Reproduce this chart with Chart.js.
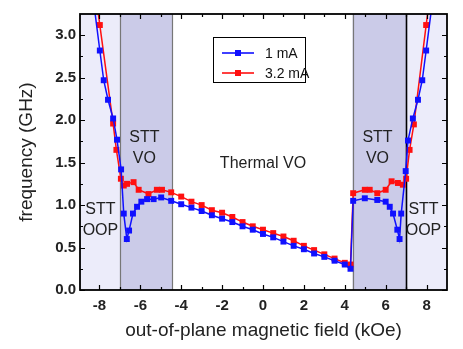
<!DOCTYPE html>
<html>
<head>
<meta charset="utf-8">
<script src="https://cdn.jsdelivr.net/npm/chart.js@4/dist/chart.umd.min.js"></script>
<style>
  html, body { margin: 0; padding: 0; background: #fff; }
  #wrap { width: 463px; height: 349px; }
</style>
</head>
<body>
<div id="wrap"><canvas id="chart" width="463" height="349"></canvas></div>
<script>
// field (kOe) and frequency (GHz)
const field1mA = [-8.5, -7.98, -7.79, -7.58, -7.33, -7.14, -6.94, -6.81, -6.66, -6.55, -6.36, -6.16, -5.95, -5.67, -5.35, -4.98,
  -4.49, -4.0, -3.5, -3.0, -2.5, -2.0, -1.5, -1.0, -0.5, 0.0, 0.5, 1.0, 1.5, 2.0, 2.5, 3.0, 3.5, 4.0, 4.28,
  4.41, 4.98, 5.59, 6.0, 6.2, 6.36, 6.57, 6.68, 6.76, 6.98, 7.09, 7.33, 7.58, 7.79, 7.98, 8.5];
const freq1mA = [3.8, 2.82, 2.47, 2.24, 2.02, 1.77, 1.42, 0.90, 0.60, 0.70, 0.90, 0.98, 1.04, 1.07, 1.07, 1.09,
  1.05, 1.01, 0.97, 0.93, 0.88, 0.84, 0.80, 0.75, 0.71, 0.66, 0.62, 0.57, 0.52, 0.48, 0.43, 0.39, 0.345, 0.30, 0.25,
  1.05, 1.08, 1.06, 1.04, 0.98, 0.90, 0.71, 0.60, 0.90, 1.40, 1.76, 2.02, 2.24, 2.47, 2.82, 3.8];

const field32mA = [-8.5, -7.98, -7.33, -7.17, -6.95, -6.81, -6.65, -6.33, -6.08, -5.6, -5.19, -4.94,
  -4.49, -4.0, -3.5, -3.0, -2.5, -2.0, -1.5, -1.0, -0.5, 0.0, 0.5, 1.0, 1.5, 2.0, 2.5, 3.0, 3.5, 4.0, 4.28,
  4.41, 4.98, 5.22, 5.59, 6.0, 6.29, 6.6, 6.84, 7.0, 7.17, 7.38, 7.98, 8.5];
const freq32mA = [4.06, 3.12, 1.96, 1.65, 1.31, 1.23, 1.25, 1.27, 1.18, 1.13, 1.18, 1.18,
  1.15, 1.10, 1.04, 1.00, 0.94, 0.91, 0.86, 0.80, 0.75, 0.71, 0.67, 0.63, 0.58, 0.52, 0.47, 0.42, 0.37, 0.32, 0.30,
  1.14, 1.18, 1.18, 1.14, 1.18, 1.28, 1.26, 1.24, 1.31, 1.65, 1.95, 3.12, 4.06];

const seriesLabels = ['1 mA', '3.2 mA'];
const xTicks = [-8, -6, -4, -2, 0, 2, 4, 6, 8];
const xMinorTicks = [-7, -5, -3, -1, 1, 3, 5, 7];
const yTicks = [0, 0.5, 1.0, 1.5, 2.0, 2.5, 3.0];
const yMinorTicks = [0.25, 0.75, 1.25, 1.75, 2.25, 2.75];

// oscillation regimes along the field axis
const regionEdges = [-8.95, -7.0, -4.45, 4.38, 7.0, 9.0];
const regionKinds = ['oop', 'vo', 'thermal', 'vo', 'oop'];
const regionNames = [['STT', 'OOP'], ['STT', 'VO'], ['Thermal VO'], ['STT', 'VO'], ['STT', 'OOP']];
const nameAt = [[-7.95, 0.83], [-5.8, 1.68], [0, 1.49], [5.6, 1.68], [7.85, 0.83]];

const BLUE = '#1010ff';
const RED = '#ff1010';
const FONT = '"Liberation Sans", Arial, sans-serif';

const toPoints = (xs, ys) => xs.map((v, i) => ({ x: v, y: ys[i] }));

const regimePlugin = {
  id: 'regimes',
  beforeDatasetsDraw(chart) {
    const { ctx, chartArea: a, scales: { x, y } } = chart;
    ctx.save();
    const fills = { oop: '#ececfa', vo: '#cbcbe8', thermal: '#ffffff' };
    for (let i = 0; i < regionKinds.length; i++) {
      const x0 = Math.max(x.getPixelForValue(regionEdges[i]), a.left);
      const x1 = Math.min(x.getPixelForValue(regionEdges[i + 1]), a.right);
      ctx.fillStyle = fills[regionKinds[i]];
      ctx.fillRect(x0, a.top, x1 - x0, a.bottom - a.top);
    }
    // borders between regimes
    for (let i = 1; i < regionEdges.length - 1; i++) {
      const px = Math.round(x.getPixelForValue(regionEdges[i])) + 0.5;
      ctx.strokeStyle = i === 4 ? '#000' : '#777';
      ctx.lineWidth = i === 4 ? 1.6 : 1.2;
      ctx.beginPath();
      ctx.moveTo(px, a.top);
      ctx.lineTo(px, a.bottom);
      ctx.stroke();
    }
    ctx.fillStyle = '#222';
    ctx.textAlign = 'center';
    ctx.textBaseline = 'middle';
    ctx.font = '16px ' + FONT;
    regionNames.forEach((lines, i) => {
      const cx = x.getPixelForValue(nameAt[i][0]);
      const cy = y.getPixelForValue(nameAt[i][1]);
      const off = (lines.length - 1) * 10;
      lines.forEach((t, j) => ctx.fillText(t, cx, cy - off + j * 21));
    });
    ctx.restore();
  },
  afterDatasetsDraw(chart) {
    const { ctx, chartArea: a, scales: { x, y } } = chart;
    ctx.save();
    ctx.strokeStyle = '#000';
    ctx.lineWidth = 1.2;
    ctx.beginPath();
    const tickX = (vals, len) => vals.forEach(v => {
      const px = Math.round(x.getPixelForValue(v)) + 0.5;
      ctx.moveTo(px, a.bottom); ctx.lineTo(px, a.bottom - len);
      ctx.moveTo(px, a.top); ctx.lineTo(px, a.top + len);
    });
    const tickY = (vals, len) => vals.forEach(v => {
      const py = Math.round(y.getPixelForValue(v)) + 0.5;
      ctx.moveTo(a.left, py); ctx.lineTo(a.left + len, py);
      ctx.moveTo(a.right, py); ctx.lineTo(a.right - len, py);
    });
    tickX(xTicks, 5); tickX(xMinorTicks, 3);
    tickY(yTicks, 5); tickY(yMinorTicks, 3);
    ctx.stroke();
    ctx.lineWidth = 1.8;
    ctx.strokeRect(a.left, a.top, a.right - a.left, a.bottom - a.top);

    // legend box
    ctx.lineWidth = 1;
    ctx.fillStyle = '#fff';
    ctx.fillRect(213.5, 37.5, 92, 45);
    ctx.strokeRect(213.5, 37.5, 92, 45);
    ctx.font = '14px ' + FONT;
    ctx.textAlign = 'left';
    ctx.textBaseline = 'middle';
    chart.data.datasets.forEach((ds, i) => {
      const ly = 53 + i * 20;
      ctx.strokeStyle = ds.borderColor;
      ctx.lineWidth = 1.6;
      ctx.beginPath();
      ctx.moveTo(222, ly); ctx.lineTo(254, ly);
      ctx.stroke();
      ctx.fillStyle = ds.borderColor;
      ctx.fillRect(235, ly - 3, 6, 6);
      ctx.fillStyle = '#111';
      ctx.fillText(ds.label, 265, ly + 1);
    });
    ctx.restore();
  }
};

new Chart(document.getElementById('chart'), {
  type: 'line',
  data: {
    datasets: [
      {
        label: seriesLabels[0],
        data: toPoints(field1mA, freq1mA),
        borderColor: BLUE,
        backgroundColor: BLUE,
        borderWidth: 1.5,
        pointStyle: 'rect',
        pointRadius: 4.2,
        pointBorderWidth: 0,
        tension: 0,
      },
      {
        label: seriesLabels[1],
        data: toPoints(field32mA, freq32mA),
        borderColor: RED,
        backgroundColor: RED,
        borderWidth: 1.5,
        pointStyle: 'rect',
        pointRadius: 4.2,
        pointBorderWidth: 0,
        tension: 0,
      },
    ],
  },
  options: {
    responsive: false,
    animation: false,
    devicePixelRatio: 1,
    layout: { padding: { left: 0, top: 14, right: 16, bottom: 0 } },
    plugins: { legend: { display: false }, tooltip: { enabled: false } },
    scales: {
      x: {
        type: 'linear',
        min: -8.95,
        max: 9.0,
        grid: { display: false, drawTicks: false },
        border: { display: false },
        afterBuildTicks: s => { s.ticks = xTicks.map(v => ({ value: v })); },
        afterFit: s => { s.height = 59; },
        ticks: {
          padding: 7,
          color: '#222',
          font: { family: FONT, size: 15, weight: 'bold' },
          callback: v => String(v),
        },
        title: {
          display: true,
          text: 'out-of-plane magnetic field (kOe)',
          color: '#222',
          font: { family: FONT, size: 19 },
          padding: { top: 0, bottom: 7 },
        },
      },
      y: {
        min: 0,
        max: 3.25,
        grid: { display: false, drawTicks: false },
        border: { display: false },
        afterBuildTicks: s => { s.ticks = yTicks.map(v => ({ value: v })); },
        afterFit: s => { s.width = 80; },
        ticks: {
          padding: 4,
          color: '#222',
          font: { family: FONT, size: 15, weight: 'bold' },
          callback: v => v.toFixed(1),
        },
        title: {
          display: true,
          text: 'frequency (GHz)',
          color: '#222',
          font: { family: FONT, size: 19 },
          padding: { top: 15, bottom: 0 },
        },
      },
    },
  },
  plugins: [regimePlugin],
});
</script>
</body>
</html>
